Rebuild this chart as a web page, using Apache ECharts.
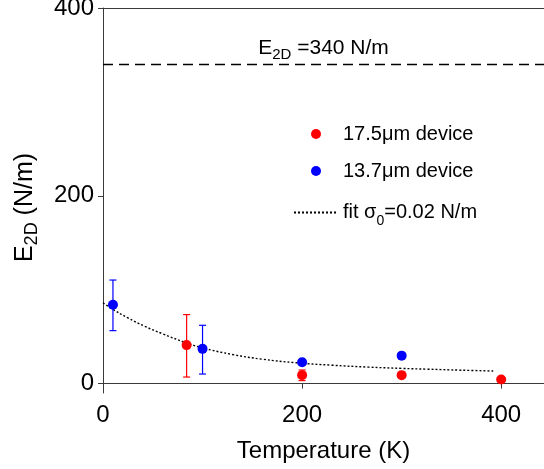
<!DOCTYPE html>
<html>
<head>
<meta charset="utf-8">
<script src="https://cdn.jsdelivr.net/npm/echarts@6/dist/echarts.min.js"></script>
<style>
  html, body { margin: 0; padding: 0; background: #fff; }
  #chart { width: 544px; height: 469px; }
</style>
</head>
<body>
<div id="chart"></div>
<script>
// Temperature (K) and 2D modulus (N/m) for the 17.5 µm device
const redT = [84, 200, 300, 400];
const redE = [41, 9, 9, 4.3];
const redLow = [7, 3.2, null, null];
const redHigh = [73.5, 14.5, null, null];

// 13.7 µm device
const blueT = [10, 100, 200, 300];
const blueE = [84, 37, 22.7, 29.8];
const blueLow = [56.4, 10.2, null, null];
const blueHigh = [110.3, 62.1, null, null];

// fitted curve, sigma0 = 0.02 N/m
const fitT = [0, 10, 25, 42, 60, 82, 100, 130, 160, 194, 230, 266, 300, 325, 360, 392];
const fitE = [86, 79, 70, 61, 53, 44, 38, 31, 26, 22.2, 19.6, 17.6, 16.2, 15.4, 14.3, 13.4];

// reference modulus line
const bulkE = 340;

const xTicks = [0, 200, 400];
const yTicks = [0, 200, 400];

const RED = '#ff0000';
const BLUE = '#0000ff';
const AXIS = '#3a3a3a';
const FONT = 'Liberation Sans, Arial, sans-serif';

function pairs(xs, ys) { return xs.map((x, i) => [x, ys[i]]); }
function bars(xs, lo, hi) {
  const out = [];
  xs.forEach((x, i) => { if (lo[i] != null) out.push([x, lo[i], hi[i]]); });
  return out;
}

function errorBar(color) {
  return function (params, api) {
    const x = api.value(0);
    const lo = api.coord([x, api.value(1)]);
    const hi = api.coord([x, api.value(2)]);
    const w = 3.5;
    const style = { stroke: color, lineWidth: 1.2 };
    return {
      type: 'group',
      children: [
        { type: 'line', shape: { x1: lo[0], y1: lo[1], x2: hi[0], y2: hi[1] }, style },
        { type: 'line', shape: { x1: lo[0] - w, y1: lo[1], x2: lo[0] + w, y2: lo[1] }, style },
        { type: 'line', shape: { x1: hi[0] - w, y1: hi[1], x2: hi[0] + w, y2: hi[1] }, style }
      ]
    };
  };
}

const chart = echarts.init(document.getElementById('chart'), null, { renderer: 'canvas' });

chart.setOption({
  animation: false,
  backgroundColor: '#fff',
  textStyle: { fontFamily: FONT },
  grid: { left: 103, right: 0, top: 8, bottom: 76, containLabel: false, outerBoundsMode: 'none' },
  legend: {
    orient: 'vertical',
    left: 288,
    top: 118,
    itemWidth: 44,
    itemHeight: 10,
    itemGap: 15,
    data: [
      { name: '17.5μm device', icon: 'circle' },
      { name: '13.7μm device', icon: 'circle' },
      { name: 'fit', itemStyle: { opacity: 0 } }
    ],
    textStyle: {
      fontFamily: FONT, fontSize: 20, color: '#000', lineHeight: 22,
      rich: {
        sub: { fontFamily: FONT, fontSize: 14, lineHeight: 14, padding: [17, 0, 0, 0], color: '#000' }
      }
    },
    formatter: function (name) {
      return name === 'fit' ? 'fit σ{sub|0}=0.02 N/m' : name;
    }
  },
  xAxis: [
    {
      type: 'value', min: 0, max: 443, interval: 200,
      name: 'Temperature (K)', nameLocation: 'middle', nameGap: 46,
      nameTextStyle: { fontFamily: FONT, fontSize: 24, color: '#000' },
      axisLine: { show: true, lineStyle: { color: AXIS, width: 1 } },
      axisTick: { show: true, inside: false, length: 5, lineStyle: { color: AXIS } },
      axisLabel: { fontFamily: FONT, fontSize: 24, color: '#000', margin: 10, customValues: xTicks },
      splitLine: { show: false }
    },
    {
      type: 'value', position: 'top', min: 0, max: 443,
      axisLine: { show: true, lineStyle: { color: AXIS, width: 1 } },
      axisTick: { show: false }, axisLabel: { show: false }, splitLine: { show: false }
    }
  ],
  yAxis: {
    type: 'value', min: -10, max: 400,
    name: 'E{sub|2D} (N/m)', nameLocation: 'middle', nameGap: 64, nameRotate: 90,
    nameTextStyle: {
      fontFamily: FONT, fontSize: 25, color: '#000', lineHeight: 27, padding: [0, 14, 0, 0],
      rich: { sub: { fontFamily: FONT, fontSize: 18, lineHeight: 18, padding: [14, 0, 0, 0], color: '#000' } }
    },
    axisLine: { show: true, lineStyle: { color: AXIS, width: 1 } },
    axisTick: { show: true, length: 5, lineStyle: { color: AXIS }, customValues: yTicks },
    axisLabel: { fontFamily: FONT, fontSize: 24, color: '#000', margin: 9, customValues: yTicks },
    splitLine: { show: false }
  },
  series: [
    {
      name: 'fit', type: 'line', smooth: 0.4, symbol: 'none', z: 2,
      data: pairs(fitT, fitE),
      lineStyle: { color: '#000', width: 1.4, type: [2, 2] },
      itemStyle: { color: '#000' },
      markLine: {
        silent: true, symbol: 'none',
        data: [{ yAxis: bulkE }],
        lineStyle: { color: '#000', width: 1.3, type: [10, 6] },
        label: {
          show: true, position: 'insideMiddleTop', distance: 5,
          formatter: 'E{sub|2D} =340 N/m',
          fontFamily: FONT, fontSize: 21, color: '#000', lineHeight: 23,
          rich: { sub: { fontFamily: FONT, fontSize: 15, lineHeight: 15, padding: [15, 0, 0, 0], color: '#000' } }
        }
      }
    },
    {
      name: '17.5μm device', type: 'custom', renderItem: errorBar(RED), z: 3,
      data: bars(redT, redLow, redHigh), itemStyle: { color: RED }
    },
    {
      name: '13.7μm device', type: 'custom', renderItem: errorBar(BLUE), z: 3,
      data: bars(blueT, blueLow, blueHigh), itemStyle: { color: BLUE }
    },
    {
      name: '17.5μm device', type: 'scatter', symbol: 'circle', symbolSize: 10, z: 4,
      data: pairs(redT, redE), itemStyle: { color: RED, opacity: 1 }
    },
    {
      name: '13.7μm device', type: 'scatter', symbol: 'circle', symbolSize: 10, z: 4,
      data: pairs(blueT, blueE), itemStyle: { color: BLUE, opacity: 1 }
    }
  ]
});
</script>
</body>
</html>
